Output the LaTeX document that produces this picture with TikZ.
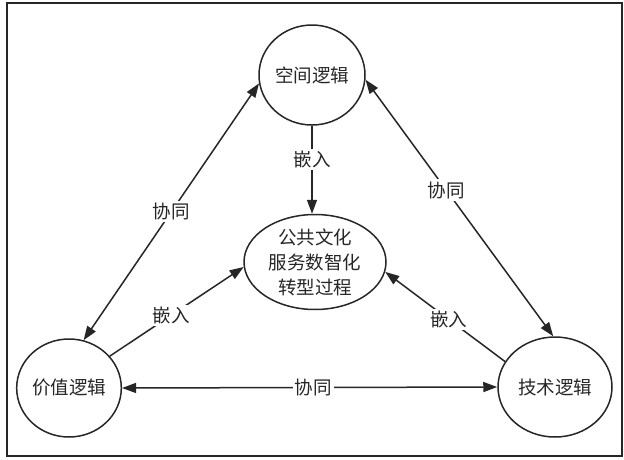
\documentclass[tikz,border=0pt]{standalone}
\usepackage{fontspec}
\newfontfamily\cjk{Noto Sans CJK SC}
\usetikzlibrary{shapes.geometric,arrows.meta}
\begin{document}
\begin{tikzpicture}[x=1pt,y=-1pt,
  every node/.style={font=\cjk\fontsize{18.5pt}{25pt}\selectfont, text=black!85},
  logic/.style={ellipse,draw=black!85,line width=1.5pt,inner sep=0pt},
  link/.style={draw=black!85,line width=1.5pt},
  arr/.style={-{Triangle[length=14pt,width=10pt]}},
  biarr/.style={{Triangle[length=14pt,width=10pt]}-{Triangle[length=14pt,width=10pt]}},
  lbl/.style={fill=white,inner sep=2pt}]
\useasboundingbox (0,0) rectangle (624,459);
\draw[line width=2pt,draw=black!85] (7,3) rectangle (622,456);
\node[logic,minimum width=106pt,minimum height=100pt] (top) at (312,75) {空间逻辑};
\node[logic,minimum width=102pt,minimum height=98pt] (left) at (69,388) {价值逻辑};
\node[logic,minimum width=114pt,minimum height=100pt] (right) at (555,387) {技术逻辑};
\node[logic,minimum width=142pt,minimum height=90pt,align=center] (ctr) at (315,262) {公共文化\\服务数智化\\转型过程};
% 协同 links
\draw[link,biarr] (top.189) -- node[lbl,pos=0.5]{协同} (left.73);
\draw[link,biarr] (top.355) -- node[lbl,pos=0.43]{协同} (right.92);
\draw[link,biarr] (left.0) -- node[lbl,pos=0.51]{协同} (right.180);
% 嵌入 links
\draw[link,arr] (top.south) -- node[lbl,pos=0.38]{嵌入} (top.south |- ctr.north);
\draw[link,arr] (left.38) -- node[lbl,pos=0.46]{嵌入} (ctr.184);
\draw[link,arr] (right.153) -- node[lbl,pos=0.47]{嵌入} (ctr.352);
\end{tikzpicture}
\end{document}
